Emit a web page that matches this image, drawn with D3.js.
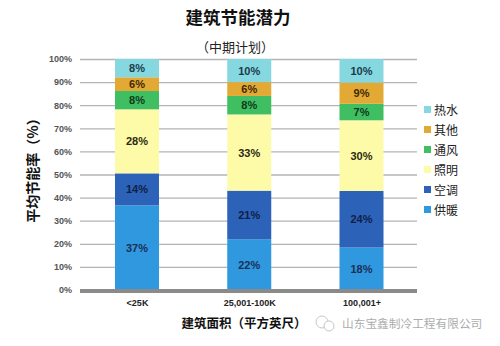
<!DOCTYPE html>
<html><head><meta charset="utf-8">
<script src="https://cdn.jsdelivr.net/npm/d3@7"></script>
<style>
body{margin:0;background:#fff;}
svg{display:block;font-family:"Noto Sans CJK SC","Noto Sans",sans-serif;}
</style></head><body>
<svg id="chart" width="500" height="346"></svg>
<script>
const categories = ["<25K", "25,001-100K", "100,001+"];
const seriesNames = ["供暖", "空调", "照明", "通风", "其他", "热水"];
const heating   = [37, 22, 18];
const cooling   = [14, 21, 24];
const lighting  = [28, 33, 30];
const ventilate = [8, 8, 7];
const other     = [6, 6, 9];
const hotWater  = [8, 10, 10];
const yTicks = [0, 0.1, 0.2, 0.3, 0.4, 0.5, 0.6, 0.7, 0.8, 0.9, 1];
const colors = ["#2f98df", "#2c62b8", "#fdfaa8", "#3fbf62", "#e3a935", "#86d8e0"];
const labelColors = ["#1b2f55", "#0f1f45", "#2a2a10", "#0f3a1c", "#3d2a05", "#1b3a4a"];

(function () {
const seriesValues = [heating, cooling, lighting, ventilate, other, hotWater];
const table = categories.map((c, i) => {
  const row = {cat: c};
  seriesNames.forEach((s, j) => row[s] = seriesValues[j][i]);
  return row;
});
const stack = d3.stack().keys(seriesNames).offset(d3.stackOffsetExpand);
const layers = stack(table);

const svg = d3.select("#chart");
const pLeft = 80, pRight = 417, pTop = 59, pBottom = 290;
const x = d3.scalePoint().domain(categories).range([137, 361.5]);
const y = d3.scaleLinear().domain([0, 1]).range([pBottom, pTop]);
const barW = 44;

// title
svg.append("text").attr("x", 238).attr("y", 24).attr("text-anchor", "middle")
  .attr("font-size", 17.5).attr("font-weight", "bold").attr("fill", "#111").text("建筑节能潜力");
svg.append("text").attr("x", 235).attr("y", 52).attr("text-anchor", "middle")
  .attr("font-size", 13).attr("fill", "#222").text("（中期计划）");

// gridlines
const yAxis = d3.axisLeft(y).tickValues(yTicks).tickFormat(d3.format(".0%")).tickSize(-(pRight - pLeft)).tickPadding(8);
const ga = svg.append("g").attr("transform", `translate(${pLeft},0)`).call(yAxis);
ga.select(".domain").remove();
ga.selectAll(".tick line").attr("stroke", "#b4b4b4").attr("stroke-width", 1.3);
ga.selectAll(".tick text").attr("font-size", 9).attr("font-weight", "bold").attr("fill", "#555")
  .attr("font-family", "Liberation Sans, Arial, sans-serif");

// bars
const g = svg.append("g");
layers.forEach((layer, li) => {
  g.selectAll(null).data(layer).enter().append("rect")
    .attr("x", d => x(d.data.cat) - barW / 2)
    .attr("width", barW)
    .attr("y", d => y(d[1]))
    .attr("height", d => y(d[0]) - y(d[1]))
    .attr("fill", colors[li]);
  g.selectAll(null).data(layer).enter().append("text")
    .attr("x", d => x(d.data.cat))
    .attr("y", d => (y(d[0]) + y(d[1])) / 2 + 4)
    .attr("text-anchor", "middle")
    .attr("font-size", 11).attr("font-weight", "bold")
    .attr("font-family", "Liberation Sans, Arial, sans-serif")
    .attr("fill", labelColors[li])
    .text(d => d.data[layer.key] + "%");
});

// baseline
svg.append("line").attr("x1", pLeft).attr("x2", pRight).attr("y1", pBottom + 1).attr("y2", pBottom + 1)
  .attr("stroke", "#8a8a8a").attr("stroke-width", 4);

// x axis labels
const xAxis = d3.axisBottom(x).tickSize(0).tickPadding(10);
const gx = svg.append("g").attr("transform", `translate(0,${pBottom})`).call(xAxis);
gx.select(".domain").remove();
gx.selectAll(".tick text").attr("font-size", 9).attr("font-weight", "bold").attr("fill", "#222")
  .attr("font-family", "Liberation Sans, Arial, sans-serif");

// axis titles
svg.append("text").attr("transform", "translate(38,167) rotate(-90)").attr("text-anchor", "middle")
  .attr("font-size", 14).attr("font-weight", "bold").attr("fill", "#111").text("平均节能率（%）");
svg.append("text").attr("x", 244).attr("y", 328).attr("text-anchor", "middle")
  .attr("font-size", 12.5).attr("font-weight", "bold").attr("fill", "#111").text("建筑面积（平方英尺）");

// legend (reverse order)
const legendOrder = seriesNames.map((s, i) => ({s, c: colors[i]})).reverse();
const lg = svg.append("g");
legendOrder.forEach((d, i) => {
  const ly = 110 + i * 20;
  lg.append("rect").attr("x", 424).attr("y", ly - 4).attr("width", 7).attr("height", 7).attr("fill", d.c);
  lg.append("text").attr("x", 434).attr("y", ly + 5).attr("font-size", 12).attr("fill", "#222").text(d.s);
});

// watermark
const wm = svg.append("g").attr("opacity", 0.55);
wm.append("circle").attr("cx", 322).attr("cy", 322).attr("r", 6).attr("fill", "none").attr("stroke", "#999").attr("stroke-width", 1);
wm.append("circle").attr("cx", 329).attr("cy", 326).attr("r", 5).attr("fill", "#fff").attr("stroke", "#999").attr("stroke-width", 1);
wm.append("text").attr("x", 342).attr("y", 328).attr("font-size", 11.7).attr("fill", "#666").text("山东宝鑫制冷工程有限公司");
})();
</script>
</body></html>
